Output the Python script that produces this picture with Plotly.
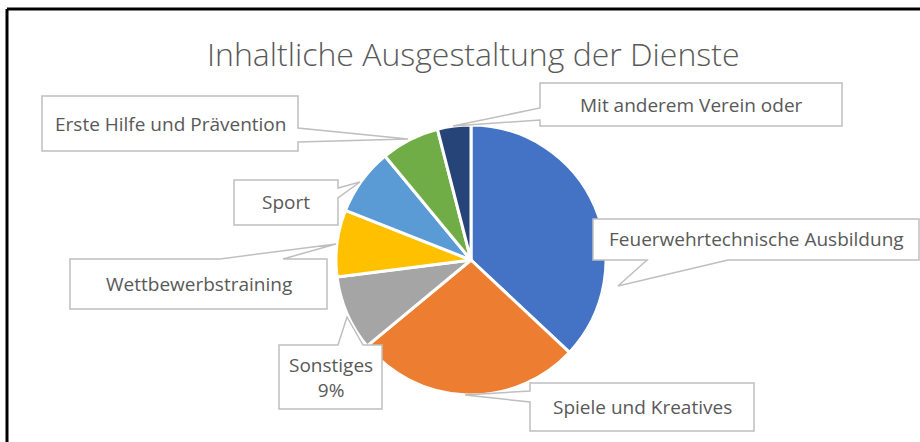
import plotly.graph_objects as go

# ---------------------------------------------------------------------
# Data
# ---------------------------------------------------------------------
labels = [
    "Feuerwehrtechnische Ausbildung",
    "Spiele und Kreatives",
    "Sonstiges",
    "Wettbewerbstraining",
    "Sport",
    "Erste Hilfe und Prävention",
    "Mit anderem Verein oder",
]
values = [37, 27, 9, 8, 8, 7, 4]
colors = ["#4472C4", "#ED7D31", "#A5A5A5", "#FFC000", "#5B9BD5", "#70AD47", "#264478"]
show_percent = ["Sonstiges"]

W, H = 920, 442

# callout boxes in pixels: box (x0, y0, x1, y1), edge carrying the pointer, pointer base, tip
callouts = {
    "Feuerwehrtechnische Ausbildung": ((593, 219, 919, 260), "bottom", (647, 728), (618, 286)),
    "Spiele und Kreatives": ((530, 383, 754, 431), "left", (391, 402), (465, 395)),
    "Sonstiges": ((279, 345, 382, 409), "top", (338, 363), (347, 317)),
    "Wettbewerbstraining": ((70, 259, 327, 309), "top", (220, 283), (336, 244)),
    "Sport": ((234, 180, 338, 225), "right", (188, 198), (360, 182)),
    "Erste Hilfe und Prävention": ((42, 96, 298, 151), "right", (128, 142), (408, 139)),
    "Mit anderem Verein oder": ((540, 83, 842, 126), "left", (108, 120), (453, 126)),
}


def px(x, y):
    return x / W, 1 - y / H


def callout_path(box, side, base, tip):
    x0, y0, x1, y1 = box
    a, b = base
    pts = [(x0, y0)]
    if side == "top":
        pts += [(a, y0), tip, (b, y0)]
    pts.append((x1, y0))
    if side == "right":
        pts += [(x1, a), tip, (x1, b)]
    pts.append((x1, y1))
    if side == "bottom":
        pts += [(b, y1), tip, (a, y1)]
    pts.append((x0, y1))
    if side == "left":
        pts += [(x0, b), tip, (x0, a)]
    coords = [px(x, y) for x, y in pts]
    return "M " + " L ".join(f"{x:.5f},{y:.5f}" for x, y in coords) + " Z"


# ---------------------------------------------------------------------
# Figure
# ---------------------------------------------------------------------
cx, cy, r = 471, 260, 135
fig = go.Figure(go.Pie(
    labels=labels,
    values=values,
    marker=dict(colors=colors, line=dict(color="white", width=3)),
    sort=False,
    direction="clockwise",
    rotation=0,
    textinfo="none",
    hoverinfo="label+percent",
    domain=dict(x=[(cx - r) / W, (cx + r) / W], y=[1 - (cy + r) / H, 1 - (cy - r) / H]),
    showlegend=False,
))

font = "Open Sans, Lato, sans-serif"
total = sum(values)
shapes, annotations = [], []
for label, value in zip(labels, values):
    box, side, base, tip = callouts[label]
    shapes.append(dict(type="path", xref="paper", yref="paper",
                       path=callout_path(box, side, base, tip),
                       fillcolor="white", line=dict(color="#BFBFBF", width=1.5)))
    text = label
    if label in show_percent:
        text = f"{label}<br>{round(value / total * 100)}%"
    bx, by = px((box[0] + box[2]) / 2, (box[1] + box[3]) / 2)
    annotations.append(dict(x=bx, y=by, xref="paper", yref="paper", text=text,
                            xanchor="center", yanchor="middle", showarrow=False,
                            font=dict(family=font, size=19, color="#595959")))

# chart frame (left and top edge)
shapes.append(dict(type="line", xref="paper", yref="paper", x0=7 / W, x1=1, y0=1 - 9 / H, y1=1 - 9 / H,
                   line=dict(color="black", width=3)))
shapes.append(dict(type="line", xref="paper", yref="paper", x0=7 / W, x1=7 / W, y0=0, y1=1 - 9 / H,
                   line=dict(color="black", width=3)))

tx, ty = px(473, 53)
annotations.append(dict(x=tx, y=ty, xref="paper", yref="paper", text="Inhaltliche Ausgestaltung der Dienste",
                        xanchor="center", yanchor="middle", showarrow=False,
                        font=dict(family=font, size=32, color="#595959", weight=300)))

fig.update_layout(
    width=W, height=H,
    margin=dict(l=0, r=0, t=0, b=0),
    paper_bgcolor="white",
    plot_bgcolor="white",
    shapes=shapes,
    annotations=annotations,
)

fig.write_html("out.html", config={"displayModeBar": False},
               post_script="document.body.style.margin = '0';")
